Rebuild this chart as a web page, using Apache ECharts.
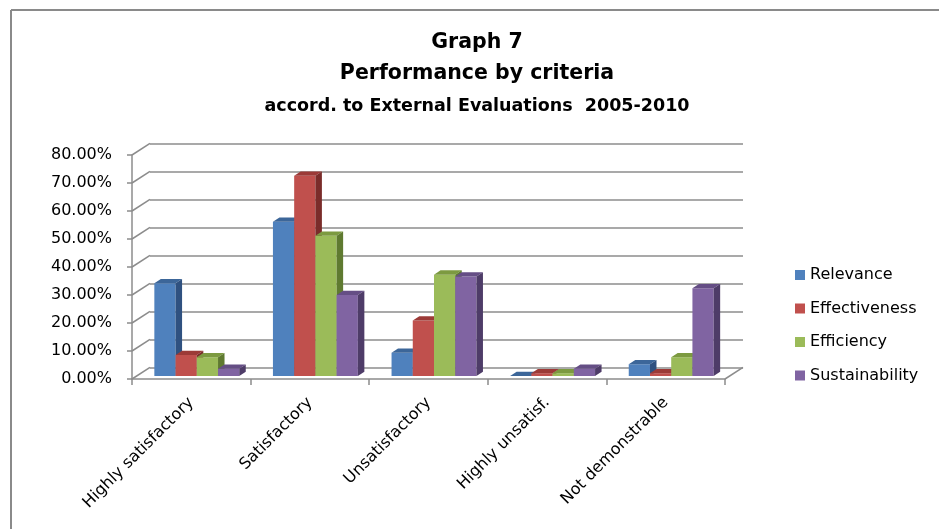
<!DOCTYPE html>
<html>
<head>
<meta charset="utf-8">
<style>
html, body { margin: 0; padding: 0; background: #fff; }
#chart { width: 939px; height: 529px; }
</style>
<script src="https://cdn.jsdelivr.net/npm/echarts@6/dist/echarts.min.js"></script>
</head>
<body>
<div id="chart"></div>
<script>
var categories = ['Highly satisfactory', 'Satisfactory', 'Unsatisfactory', 'Highly unsatisf.', 'Not demonstrable'];
var seriesNames = ['Relevance', 'Effectiveness', 'Efficiency', 'Sustainability'];
var relevance = [33.1, 55.1, 8.3, 0, 4.2];
var effectiveness = [7.5, 71.5, 19.8, 1.0, 1.0];
var efficiency = [6.7, 50.1, 36.2, 1.0, 6.7];
var sustainability = [2.6, 28.9, 35.5, 2.6, 31.3];
var yTicks = [0, 10, 20, 30, 40, 50, 60, 70, 80];

var colors = ['#4F81BD', '#C0504D', '#9BBB59', '#8064A2'];
var topColors = ['#3C6699', '#9C3A37', '#7C9A40', '#654E85'];
var sideColors = ['#2F5180', '#7A2C2A', '#5F7A30', '#4E3C68'];

// oblique projection of the 3D walls
var wallDx = 18, wallDy = -11.7;
var barShiftX = 5.5, barShiftY = -3;
var depthDx = 6.5, depthDy = -4.3;

var chart = echarts.init(document.getElementById('chart'));

function barRenderer(s) {
	return function (params, api) {
		var cat = api.value(0), val = api.value(1);
		var base = api.coord([cat, 0]);
		var top = api.coord([cat, val]);
		var w = api.size([1, 0])[0];
		var bw = w * 0.179;
		var x = base[0] - 2 * bw + s * bw + barShiftX;
		var yb = base[1] + barShiftY, yt = top[1] + barShiftY;
		return {
			type: 'group',
			children: [
				{ type: 'rect', shape: { x: x, y: yt, width: bw, height: yb - yt }, style: { fill: colors[s] } },
				{ type: 'polygon', shape: { points: [[x, yt], [x + depthDx, yt + depthDy], [x + bw + depthDx, yt + depthDy], [x + bw, yt]] }, style: { fill: topColors[s] } },
				{ type: 'polygon', shape: { points: [[x + bw, yt], [x + bw + depthDx, yt + depthDy], [x + bw + depthDx, yb + depthDy], [x + bw, yb]] }, style: { fill: sideColors[s] } }
			]
		};
	};
}

function toData(arr) {
	return arr.map(function (v, i) { return [i, v]; });
}

var allValues = [relevance, effectiveness, efficiency, sustainability];
var series = [];

// side-wall diagonals from the front axis to the back wall
series.push({
	type: 'custom',
	xAxisIndex: 0, yAxisIndex: 0,
	silent: true, z: 1,
	data: yTicks.map(function (v) { return [0, v]; }),
	renderItem: function (params, api) {
		var p = api.coord([0, api.value(1)]);
		var left = p[0] - api.size([1, 0])[0] / 2;
		return { type: 'line', shape: { x1: left, y1: p[1], x2: left + wallDx, y2: p[1] + wallDy }, style: { stroke: '#8c8c8c', lineWidth: 1.5 } };
	}
});
// floor right edge
series.push({
	type: 'custom',
	xAxisIndex: 0, yAxisIndex: 0,
	silent: true, z: 1,
	data: [[categories.length - 1, 0]],
	renderItem: function (params, api) {
		var p = api.coord([api.value(0), 0]);
		var right = p[0] + api.size([1, 0])[0] / 2;
		return { type: 'line', shape: { x1: right, y1: p[1], x2: right + wallDx, y2: p[1] + wallDy }, style: { stroke: '#8c8c8c', lineWidth: 1.5 } };
	}
});

for (var s = 0; s < 4; s++) {
	series.push({
		name: seriesNames[s],
		type: 'custom',
		xAxisIndex: 0, yAxisIndex: 0,
		z: 3,
		itemStyle: { color: colors[s] },
		encode: { x: 0, y: 1 },
		data: toData(allValues[s]),
		renderItem: barRenderer(s)
	});
}

var labelFont = 'DejaVu Sans';

option = {
	animation: false,
	backgroundColor: '#fff',
	graphic: [
		{ type: 'line', shape: { x1: 11, y1: 10, x2: 939, y2: 10 }, style: { stroke: '#8a8a8a', lineWidth: 2 } },
		{ type: 'line', shape: { x1: 11, y1: 10, x2: 11, y2: 529 }, style: { stroke: '#8a8a8a', lineWidth: 2 } },
		{ type: 'text', x: 477, y: 43, style: { text: 'Graph 7', align: 'center', verticalAlign: 'middle', font: 'bold 20.5px "DejaVu Sans"', fill: '#000' } },
		{ type: 'text', x: 477, y: 74, style: { text: 'Performance by criteria', align: 'center', verticalAlign: 'middle', font: 'bold 20.5px "DejaVu Sans"', fill: '#000' } },
		{ type: 'text', x: 477, y: 106, style: { text: 'accord. to External Evaluations  2005-2010', align: 'center', verticalAlign: 'middle', font: 'bold 17.5px "DejaVu Sans"', fill: '#000' } }
	],
	legend: {
		orient: 'vertical',
		left: 795,
		top: 266,
		padding: 0,
		icon: 'rect',
		itemWidth: 10,
		itemHeight: 10,
		itemGap: 15.5,
		data: seriesNames,
		textStyle: { fontFamily: labelFont, fontSize: 16, color: '#000', lineHeight: 18 }
	},
	grid: [
		{ left: 132, right: 214, top: 155, bottom: 150 },
		{ left: 132 + wallDx, right: 214 - wallDx, top: 155 + wallDy, bottom: 150 - wallDy }
	],
	xAxis: [
		{
			type: 'category',
			gridIndex: 0,
			data: categories,
			axisLine: { lineStyle: { color: '#8c8c8c', width: 1.5 } },
			axisTick: { show: true, length: 6, lineStyle: { color: '#8c8c8c', width: 1.5 } },
			axisLabel: { rotate: 45, margin: 21, fontFamily: labelFont, fontSize: 16, color: '#000', interval: 0 },
			splitLine: { show: false }
		},
		{ type: 'value', gridIndex: 1, show: false }
	],
	yAxis: [
		{
			type: 'value',
			gridIndex: 0,
			min: 0, max: 80, interval: 10,
			axisLine: { show: true, lineStyle: { color: '#8c8c8c', width: 1.5 } },
			axisTick: { show: true, length: 5, lineStyle: { color: '#8c8c8c', width: 1.5 } },
			axisLabel: { margin: 20, fontFamily: labelFont, fontSize: 16, color: '#000', formatter: function (v) { return v.toFixed(2) + '%'; } },
			splitLine: { show: false }
		},
		{
			type: 'value',
			gridIndex: 1,
			min: 0, max: 80, interval: 10,
			axisLine: { show: false },
			axisTick: { show: false },
			axisLabel: { show: false },
			splitLine: { show: true, lineStyle: { color: '#8c8c8c', width: 1.5 } }
		}
	],
	series: series
};

chart.setOption(option);
</script>
</body>
</html>
